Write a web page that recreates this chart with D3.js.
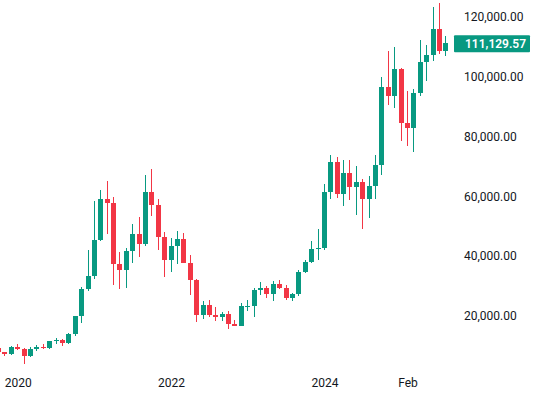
<!DOCTYPE html>
<html>
<head>
<meta charset="utf-8">
<script src="https://cdn.jsdelivr.net/npm/d3@7"></script>
<style>
  body { margin: 0; background: #fff; }
  #graf { width: 536px; height: 398px; }
  .ejes text { font-family: Roboto, "Liberation Sans", sans-serif; font-size: 12px; fill: #131722; }
</style>
</head>
<body>
<div id="graf"></div>
<script>
// monthly candles, BTC/USD
const meses = [
  '2019-10', '2019-11', '2019-12',
  '2020-01', '2020-02', '2020-03', '2020-04', '2020-05', '2020-06', '2020-07', '2020-08', '2020-09', '2020-10', '2020-11', '2020-12',
  '2021-01', '2021-02', '2021-03', '2021-04', '2021-05', '2021-06', '2021-07', '2021-08', '2021-09', '2021-10', '2021-11', '2021-12',
  '2022-01', '2022-02', '2022-03', '2022-04', '2022-05', '2022-06', '2022-07', '2022-08', '2022-09', '2022-10', '2022-11', '2022-12',
  '2023-01', '2023-02', '2023-03', '2023-04', '2023-05', '2023-06', '2023-07', '2023-08', '2023-09', '2023-10', '2023-11', '2023-12',
  '2024-01', '2024-02', '2024-03', '2024-04', '2024-05', '2024-06', '2024-07', '2024-08', '2024-09', '2024-10', '2024-11', '2024-12',
  '2025-01', '2025-02', '2025-03', '2025-04', '2025-05', '2025-06', '2025-07', '2025-08', '2025-09'
]
const aperturas = [
  8299, 9199, 7569,
  7194, 9352, 8599, 6410, 8620, 9448, 9138, 11335, 11649, 10776, 13791, 19695,
  28923, 33092, 45135, 58741, 57694, 37253, 35045, 41462, 47100, 43824, 61300, 56950,
  46216, 38466, 43160, 45510, 37630, 31801, 19942, 23293, 20050, 19423, 20491, 17164,
  16542, 23125, 23141, 28465, 29233, 27210, 30472, 29232, 25941, 26963, 34640, 37724,
  42284, 42580, 61131, 71280, 60672, 67540, 62772, 64628, 58974, 63328, 70215, 96407,
  93429, 102429, 84350, 82550, 94207, 104638, 107136, 115764, 108246
]
const maximos = [
  10370, 9510, 7750,
  9578, 10500, 9188, 9468, 10067, 10380, 11444, 12468, 12050, 14100, 19863, 29300,
  41950, 58352, 61844, 64854, 59500, 41330, 42448, 50500, 52920, 67000, 69000, 59053,
  47990, 45821, 48190, 47444, 40023, 31982, 24668, 25211, 22799, 21085, 21473, 18387,
  23960, 25250, 29184, 31000, 29820, 31432, 31804, 30244, 27483, 35198, 38450, 44700,
  48970, 64000, 73777, 72797, 71979, 71950, 70079, 65660, 66498, 73620, 99588, 108353,
  109588, 102750, 95000, 95758, 111980, 110530, 123218, 124474, 113300
]
const minimos = [
  7300, 6515, 6435,
  6871, 8450, 3782, 6150, 8106, 8833, 8893, 10525, 9825, 10374, 13195, 17572,
  28130, 32296, 44950, 47044, 30000, 28805, 29278, 37332, 39600, 43283, 53256, 42000,
  32917, 34322, 37155, 37578, 26700, 17622, 18781, 19520, 18125, 18190, 15476, 16256,
  16500, 21351, 19549, 26942, 25811, 24800, 28861, 25166, 24901, 26538, 34096, 37629,
  38555, 41884, 59005, 59191, 56552, 58402, 53485, 49000, 52550, 58946, 66835, 90500,
  89256, 78258, 76606, 74508, 93377, 98200, 105100, 107350, 106700
]
const cierres = [
  9199, 7569, 7194,
  9352, 8599, 6410, 8620, 9448, 9138, 11335, 11649, 10776, 13791, 19695, 28923,
  33092, 45135, 58741, 57694, 37253, 35045, 41462, 47100, 43824, 61300, 56950, 46216,
  38466, 43160, 45510, 37630, 31801, 19942, 23293, 20050, 19423, 20491, 17164, 16542,
  23125, 23141, 28465, 29233, 27210, 30472, 29232, 25941, 26963, 34640, 37724, 42284,
  42580, 61131, 71280, 60672, 67540, 62772, 64628, 58974, 63328, 70215, 96407, 93429,
  102429, 84350, 82550, 94207, 104638, 107136, 115764, 108246, 111129.57
]

const yTicks = [20000, 40000, 60000, 80000, 100000, 120000]
const xTickMeses = ['2020-02', '2022-02', '2024-02', '2025-03']
const xTickLabels = ['2020', '2022', '2024', 'Feb']

const anchoTotal = 536
const altoTotal = 398
const verde = '#089981'
const rojo = '#f23645'

const data = meses.map((m, i) => ({
  mes: m,
  open: aperturas[i],
  high: maximos[i],
  low: minimos[i],
  close: cierres[i],
}))

const svg = d3.select('#graf')
  .append('svg')
  .attr('width', anchoTotal)
  .attr('height', altoTotal)

// plot area is cut at the price scale
svg.append('clipPath')
  .attr('id', 'recorte')
  .append('rect')
  .attr('x', 0)
  .attr('y', 0)
  .attr('width', 452)
  .attr('height', 372)

const x = d3.scaleBand()
  .domain(meses)
  .range([-11, 449])
  .paddingInner(0.22)
  .paddingOuter(0.11)

const y = d3.scaleLinear()
  .domain([20000, 120000])
  .range([315.3, 16.3])

const g = svg.append('g').attr('clip-path', 'url(#recorte)')

const velas = g.selectAll('g.vela')
  .data(data)
  .enter()
  .append('g')
  .attr('class', 'vela')
  .attr('fill', d => d.close >= d.open ? verde : rojo)

velas.append('rect')
  .attr('x', d => Math.round(x(d.mes)) + 2)
  .attr('y', d => Math.round(y(d.high)))
  .attr('width', 1)
  .attr('height', d => Math.max(1, Math.round(y(d.low)) - Math.round(y(d.high))))

velas.append('rect')
  .attr('x', d => Math.round(x(d.mes)))
  .attr('y', d => Math.round(y(Math.max(d.open, d.close))))
  .attr('width', 5)
  .attr('height', d => Math.max(1, Math.round(y(Math.min(d.open, d.close))) - Math.round(y(Math.max(d.open, d.close)))))

// price scale on the right
const ejeY = svg.append('g')
  .attr('class', 'ejes')
  .attr('transform', 'translate(464, 0)')
  .call(
    d3.axisRight(y)
      .tickValues(yTicks)
      .tickSize(0)
      .tickPadding(0)
      .tickFormat(d3.format(',.2f'))
  )
ejeY.select('.domain').remove()
ejeY.selectAll('text').attr('dy', '0.36em')

// time labels sit one bar to the right of the month they name
const paso = x.step()
const ejeX = svg.append('g')
  .attr('class', 'ejes')
  .attr('transform', 'translate(0, 378)')
  .call(
    d3.axisBottom(d3.scaleLinear().domain([0, anchoTotal]).range([0, anchoTotal]))
      .tickValues(xTickMeses.map(m => x(m) + x.bandwidth() / 2))
      .tickSize(0)
      .tickPadding(0)
      .tickFormat((d, i) => xTickLabels[i])
  )
ejeX.select('.domain').remove()
ejeX.selectAll('text').attr('dy', '0.71em')

// last price tag
const ultimo = data[data.length - 1]
const yUlt = y(ultimo.close) + 1
svg.append('rect')
  .attr('x', 454)
  .attr('y', yUlt - 8.5)
  .attr('width', 76)
  .attr('height', 17)
  .attr('rx', 1)
  .attr('fill', ultimo.close >= ultimo.open ? verde : rojo)

svg.append('text')
  .attr('x', 465)
  .attr('y', yUlt)
  .attr('dy', '0.36em')
  .attr('fill', '#fff')
  .attr('font-family', 'Roboto, sans-serif')
  .attr('font-size', 12)
  .attr('font-weight', 600)
  .text(d3.format(',.2f')(ultimo.close))
</script>
</body>
</html>
